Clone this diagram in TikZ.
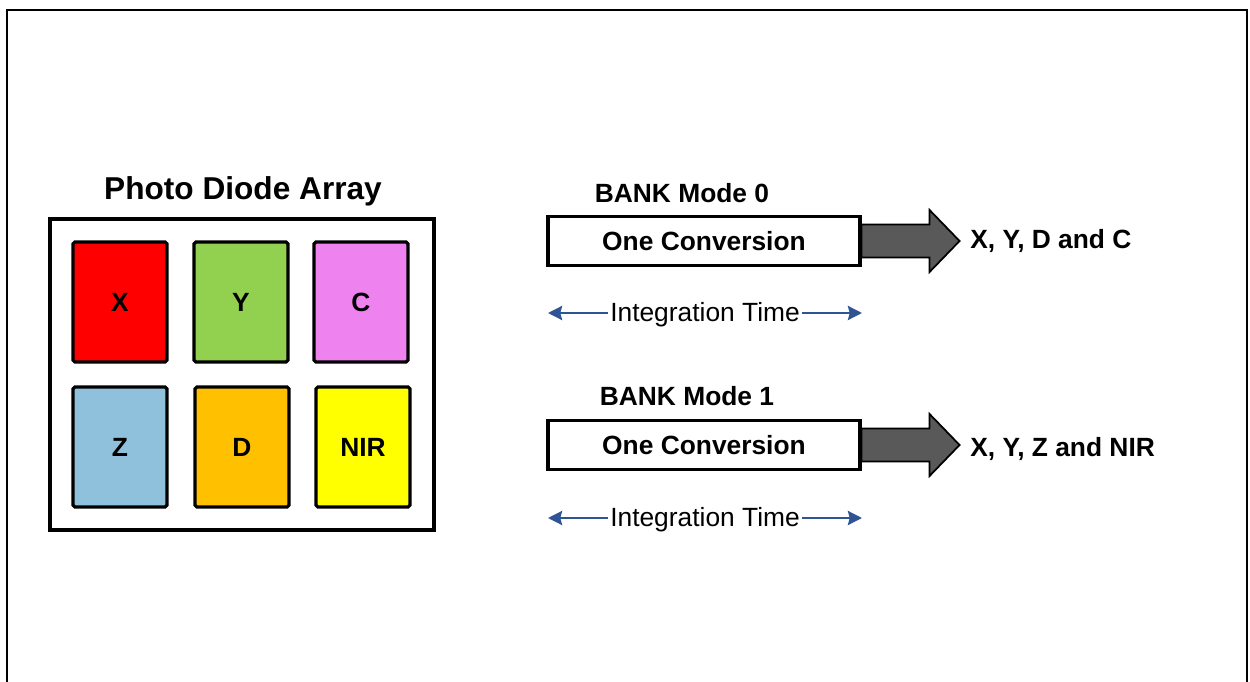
\documentclass[tikz,border=0pt]{standalone}
\usepackage{fontspec}
\setmainfont{Liberation Sans}
\usetikzlibrary{positioning,arrows.meta}
\definecolor{cellX}{HTML}{FF0000}
\definecolor{cellY}{HTML}{92D050}
\definecolor{cellC}{HTML}{EE82EE}
\definecolor{cellZ}{HTML}{8FC1DC}
\definecolor{cellD}{HTML}{FFC000}
\definecolor{cellN}{HTML}{FFFF00}
\definecolor{fatgray}{HTML}{595959}
\definecolor{timeblue}{HTML}{2F5496}
\tikzset{
  cell/.style={draw=black, line width=1.8pt, rounded corners=1pt, minimum width=1.88cm, minimum height=2.4cm, inner sep=0pt, font=\fontsize{15}{18}\selectfont\bfseries},
  convbox/.style={draw=black, line width=1.8pt, fill=white, minimum width=6.24cm, minimum height=0.98cm, inner sep=0pt, font=\fontsize{15}{18}\selectfont\bfseries},
  boldlabel/.style={inner sep=0pt, font=\fontsize{15}{18}\selectfont\bfseries},
  timelabel/.style={inner sep=1pt, font=\fontsize{15}{18}\selectfont},
  timearrow/.style={draw=timeblue, line width=1.4pt, -{Stealth[length=8pt,width=8pt,inset=1pt]}},
  fatarrow/.style={draw=black, line width=1pt, fill=fatgray}
}
\begin{document}
\begin{tikzpicture}[x=0.02cm, y=-0.02cm]
\useasboundingbox (0,0) rectangle (1250,682);
% outer frame, open at the bottom
\draw[line width=1.3pt] (7,684) -- (7,10) -- (1247,10) -- (1247,684);

% photo diode array
\node[boldlabel, font=\fontsize{18}{22}\selectfont\bfseries] (title) at (243,191) {Photo Diode Array};
\draw[line width=1.8pt] (50,219) rectangle (434,530);
\foreach \name/\txt/\col/\x/\y in {X/X/cellX/120/302, Y/Y/cellY/241/302, C/C/cellC/361/302,
                                     Z/Z/cellZ/120/447, D/D/cellD/242/447, N/NIR/cellN/363/447}
  \node[cell, fill=\col] (\name) at (\x,\y) {\txt};

% bank mode 0
\node[boldlabel] (mode0) at (682,193) {BANK Mode 0};
\node[convbox] (conv0) at (704,241) {One Conversion};
\draw[fatarrow] (conv0.east) ++(0,-16.5) -- ++(68,0) -- ++(0,-14.5) -- ++(30,31) -- ++(-30,31) -- ++(0,-14.5) -- ++(-68,0) -- cycle;
\node[boldlabel, anchor=west] (out0) at (970,241) {X, Y, D and C};
\node[timelabel] (time0) at (705,315) {Integration Time};
\coordinate (t0l) at (548,313);
\coordinate (t0r) at (862,313);
\draw[timearrow] (time0.west |- t0l) -- (t0l);
\draw[timearrow] (time0.east |- t0r) -- (t0r);

% bank mode 1
\node[boldlabel] (mode1) at (687,396) {BANK Mode 1};
\node[convbox] (conv1) at (704,445) {One Conversion};
\draw[fatarrow] (conv1.east) ++(0,-16.5) -- ++(68,0) -- ++(0,-14.5) -- ++(30,31) -- ++(-30,31) -- ++(0,-14.5) -- ++(-68,0) -- cycle;
\node[boldlabel, anchor=west] (out1) at (970,449) {X, Y, Z and NIR};
\node[timelabel] (time1) at (705,520) {Integration Time};
\coordinate (t1l) at (548,518);
\coordinate (t1r) at (862,518);
\draw[timearrow] (time1.west |- t1l) -- (t1l);
\draw[timearrow] (time1.east |- t1r) -- (t1r);
\end{tikzpicture}
\end{document}
